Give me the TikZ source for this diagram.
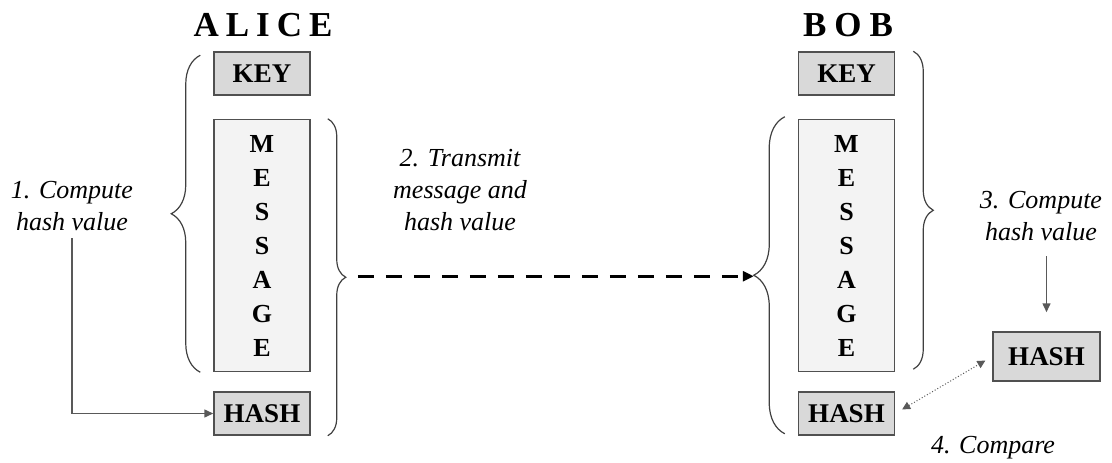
\documentclass[tikz,border=0pt]{standalone}
\usepackage{fontspec}
\setmainfont{Liberation Serif}
\usetikzlibrary{positioning,calc,arrows.meta,decorations.pathreplacing}

\definecolor{boxline}{HTML}{505050}
\definecolor{keygray}{HTML}{D9D9D9}
\definecolor{msggray}{HTML}{F3F3F3}

\tikzset{
	box/.style={draw=boxline, line width=1.5pt, fill=keygray, minimum width=96pt, minimum height=43pt, inner sep=0pt, font=\fontsize{27}{27}\selectfont\bfseries},
	msgbox/.style={box, fill=msggray, minimum height=252pt, align=center, font=\fontsize{26}{34}\selectfont\bfseries},
	bracket/.style={decorate, decoration={brace, amplitude=#1}, line width=1.2pt, draw=black!75},
	note/.style={align=center, font=\fontsize{26}{32}\selectfont\itshape},
	title/.style={anchor=base, font=\fontsize{35}{35}\selectfont\bfseries},
	flow/.style={draw=black!65, line width=1.5pt, -{Triangle[length=9pt,width=8pt]}},
}

\begin{document}
\begin{tikzpicture}[x=1pt,y=-1pt]
	\useasboundingbox (0,0) rectangle (1112,463);

	% alice
	\node[title] (alice) at (263,36) {A\hspace{7pt}L\hspace{7pt}I\hspace{7pt}C\hspace{7pt}E};
	\node[box] (aliceKey) at (262,73.5) {KEY};
	\node[msgbox, below=23pt of aliceKey] (aliceMsg) {M\\E\\S\\S\\A\\G\\E};
	\node[box, below=19pt of aliceMsg] (aliceHash) {HASH};
	\draw[bracket=29pt] ([xshift=-13pt]aliceMsg.south west) -- ([xshift=-13pt,yshift=-4pt]aliceKey.north west);
	\draw[bracket=18pt] ([xshift=17pt]aliceMsg.north east) -- ([xshift=17pt]aliceHash.south east);

	% bob
	\node[title] (bob) at (848,36) {B\hspace{8pt}O\hspace{8pt}B};
	\node[box] (bobKey) at (846.5,73.5) {KEY};
	\node[msgbox, below=23pt of bobKey] (bobMsg) {M\\E\\S\\S\\A\\G\\E};
	\node[box, below=19pt of bobMsg] (bobHash) {HASH};
	\node[box, minimum width=107pt, minimum height=49pt] (bobNewHash) at (1046.5,356.5) {HASH};
	\draw[bracket=31pt] ([xshift=-13pt,yshift=2pt]bobHash.south west) -- ([xshift=-13pt,yshift=2pt]bobMsg.north west);
	\draw[bracket=20pt] ([xshift=18pt]bobKey.north east) -- ([xshift=18pt,yshift=3pt]bobMsg.south east);

	% steps
	\node[note] (stepOne) at (72,206) {1. Compute\\hash value};
	\node[note] (stepTwo) at (460,190) {2. Transmit\\message and\\hash value};
	\node[note] (stepThree) at (1041,216) {3. Compute\\hash value};
	\node[note, anchor=base] (stepFour) at (993,453) {4. Compare};

	\coordinate (sendFrom) at ($(aliceMsg.north east)!.5!(aliceHash.south east)+(47,-1)$);
	\coordinate (sendTo) at ($(bobHash.south west)!.5!(bobMsg.north west)+(-44,0)$);
	\draw[line width=3pt, dash pattern=on 16pt off 12pt, -{Triangle[length=11pt,width=10pt]}] (sendFrom) -- (sendFrom -| sendTo);

	\draw[flow] ([yshift=-4pt]stepOne.south) |- (aliceHash.west);
	\draw[flow, shorten <=12pt, shorten >=19pt] (stepThree.south -| bobNewHash.north) -- (bobNewHash.north);
	\draw[draw=black!65, line width=1pt, dotted, {Triangle[length=8pt,width=8pt]}-{Triangle[length=8pt,width=8pt]}, shorten <=8pt, shorten >=8pt] (bobHash.east) -- (bobNewHash.west);
\end{tikzpicture}
\end{document}
